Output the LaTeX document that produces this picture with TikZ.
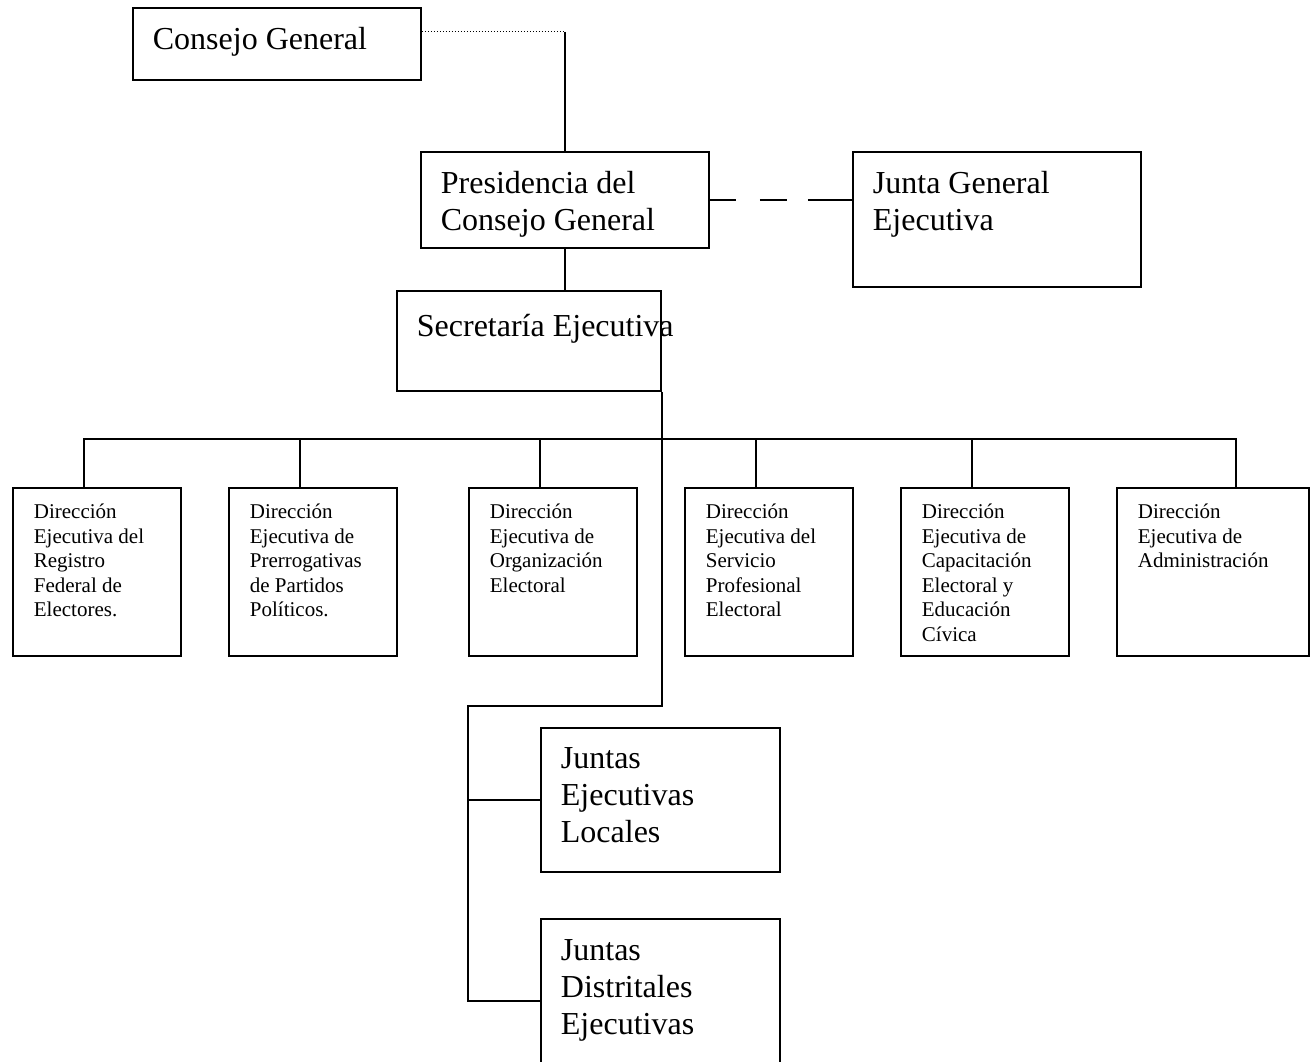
\documentclass[tikz,border=0pt]{standalone}
\usepackage{fontspec}
\setmainfont{Liberation Serif}
\usetikzlibrary{calc}

% text block: width, height, left inset, first baseline, text
\newcommand{\caja}[5]{\parbox[t][#2][t]{#1}{\raggedright\leftskip=#3\rule{0pt}{#4}#5}}

\begin{document}
\begin{tikzpicture}[x=1pt, y=-1pt, line width=1.8pt,
  caja/.style={draw, anchor=north west, inner sep=0pt},
  grande/.style={caja, font=\fontsize{32}{37}\selectfont},
  chica/.style={caja, font=\fontsize{21}{24.5}\selectfont}]
  \useasboundingbox (0,0) rectangle (1311,1061);
  \fill[white] (0,0) rectangle (1311,1061);
  \clip (0,0) rectangle (1311,1061);

  \node[grande] (consejo) at (132,7) {\caja{288pt}{72pt}{20pt}{42pt}{Consejo General}};
  \node[grande] (presi) at (420,151) {\caja{288pt}{96pt}{20pt}{42pt}{Presidencia del\\Consejo General}};
  \node[grande] (junta) at (852,151) {\caja{288pt}{135pt}{20pt}{42pt}{Junta General\\Ejecutiva}};
  \node[grande] (secre) at (396,290) {\caja{264pt}{100pt}{20pt}{46pt}{\mbox{Secretaría Ejecutiva}}};

  \node[chica] (d1) at (12,487) {\caja{168pt}{168pt}{21pt}{31pt}{Dirección\\Ejecutiva del\\Registro\\Federal de\\Electores.}};
  \node[chica] (d2) at (228,487) {\caja{168pt}{168pt}{21pt}{31pt}{Dirección\\Ejecutiva de\\Prerrogativas\\de Partidos\\Políticos.}};
  \node[chica] (d3) at (468,487) {\caja{168pt}{168pt}{21pt}{31pt}{Dirección\\Ejecutiva de\\Organización\\Electoral}};
  \node[chica] (d4) at (684,487) {\caja{168pt}{168pt}{21pt}{31pt}{Dirección\\Ejecutiva del\\Servicio\\Profesional\\Electoral}};
  \node[chica] (d5) at (900,487) {\caja{168pt}{168pt}{21pt}{31pt}{Dirección\\Ejecutiva de\\Capacitación\\Electoral y\\Educación\\Cívica}};
  \node[chica] (d6) at (1116,487) {\caja{192pt}{168pt}{21pt}{31pt}{Dirección\\Ejecutiva de\\Administración}};

  \node[grande] (locales) at (540,727) {\caja{239pt}{144pt}{20pt}{41pt}{Juntas\\Ejecutivas\\Locales}};
  \node[grande] (distritales) at (540,918) {\caja{239pt}{164pt}{20pt}{42pt}{Juntas\\Distritales\\Ejecutivas}};

  % upper links
  \coordinate (codo) at ([yshift=12pt]consejo.east -| presi.north);
  \draw[line width=1pt, dash pattern=on 1pt off 2pt] ([yshift=12pt]consejo.east) -- (codo);
  \draw (codo) -- (presi.north);
  \draw[dash pattern=on 26pt off 24pt on 27pt off 21pt on 46pt] (presi.east) -- (presi.east -| junta.west);
  \draw (presi.south) -- (presi.south |- secre.north);

  % bus to the direcciones
  \coordinate (bus) at (0,439);
  \draw ([xshift=72pt]d1.north west) |- ([xshift=120pt]d6.north west |- bus) -- ([xshift=120pt]d6.north west);
  \draw ([xshift=72pt]d2.north west) -- ([xshift=72pt]d2.north west |- bus);
  \draw ([xshift=72pt]d3.north west) -- ([xshift=72pt]d3.north west |- bus);
  \draw ([xshift=72pt]d4.north west) -- ([xshift=72pt]d4.north west |- bus);
  \draw ([xshift=72pt]d5.north west) -- ([xshift=72pt]d5.north west |- bus);

  % juntas
  \coordinate (quiebre) at (468,706);
  \draw (secre.south east) |- (quiebre) |- (distritales.west);
  \draw (quiebre |- locales.west) -- (locales.west);
\end{tikzpicture}
\end{document}
